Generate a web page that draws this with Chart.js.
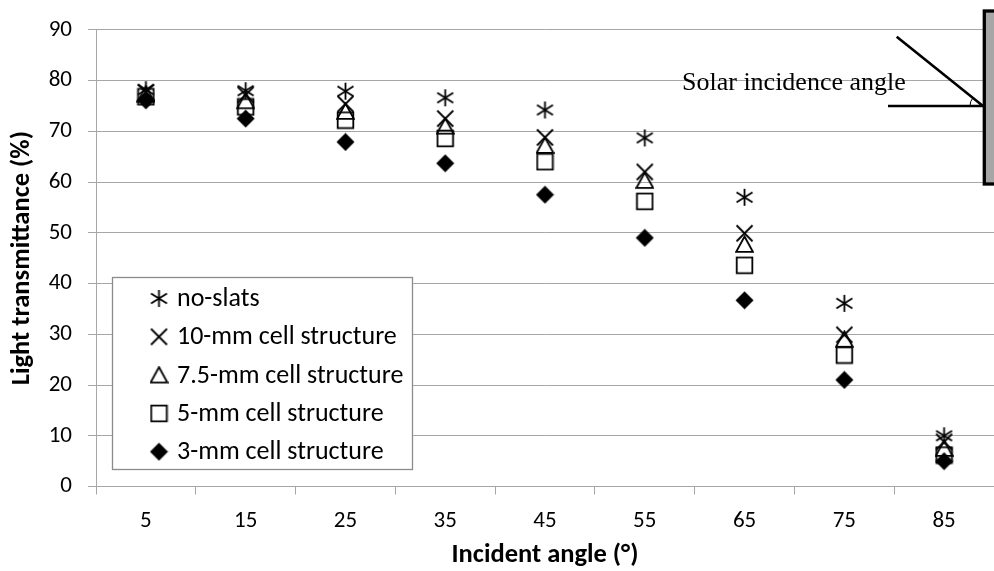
<!DOCTYPE html>
<html><head><meta charset="utf-8">
<script src="https://cdn.jsdelivr.net/npm/chart.js@4.4.0/dist/chart.umd.min.js"></script>
<style>
html,body{margin:0;padding:0;background:#fff;overflow:hidden}
#wrap{position:relative;width:1004px;height:571px}
</style></head>
<body><div id="wrap"><canvas id="c"></canvas></div>
<script>
// ---- data ----
const categories = ['5','15','25','35','45','55','65','75','85'];
const seriesNames = ['no-slats','10-mm cell structure','7.5-mm cell structure','5-mm cell structure','3-mm cell structure'];
const noSlats = [78.2, 78.0, 77.9, 76.6, 74.2, 68.7, 57.0, 36.1, 10.0];
const cell10  = [77.7, 77.2, 75.4, 72.5, 68.8, 62.0, 49.9, 29.9, 8.8];
const cell75  = [77.3, 76.0, 73.9, 71.0, 67.2, 60.3, 47.7, 29.0, 7.5];
const cell5   = [76.8, 74.8, 72.2, 68.6, 64.0, 56.2, 43.6, 25.9, 6.2];
const cell3   = [76.1, 72.5, 67.9, 63.7, 57.5, 49.0, 36.7, 21.0, 5.0];
const yMin = 0, yMax = 90, yStep = 10;
const xTitle = 'Incident angle (°)';
const yTitle = 'Light transmittance (%)';
const noteText = 'Solar incidence angle';

const FONT = 'Carlito, Lato, sans-serif';

function makeMarker(kind){
  const c = document.createElement('canvas');
  c.width = 19; c.height = 19;
  const g = c.getContext('2d');
  g.translate(9.5, 9.5);
  g.strokeStyle = '#000'; g.fillStyle = '#000'; g.lineWidth = 1.8;
  g.beginPath();
  if (kind === 'asterisk'){
    g.moveTo(0,-8.5); g.lineTo(0,8.5);
    g.moveTo(-8,-5); g.lineTo(8,5);
    g.moveTo(-8,5); g.lineTo(8,-5);
    g.stroke();
  } else if (kind === 'x'){
    g.moveTo(-8,-8); g.lineTo(8,8);
    g.moveTo(-8,8); g.lineTo(8,-8);
    g.stroke();
  } else if (kind === 'tri'){
    g.moveTo(0,-8); g.lineTo(8.3,7.3); g.lineTo(-8.3,7.3); g.closePath();
    g.stroke();
  } else if (kind === 'sq'){
    g.rect(-7.8,-7.8,15.6,15.6);
    g.stroke();
  } else {
    g.moveTo(0,-9); g.lineTo(9,0); g.lineTo(0,9); g.lineTo(-9,0); g.closePath();
    g.fill();
  }
  return c;
}
const markers = [makeMarker('asterisk'), makeMarker('x'), makeMarker('tri'), makeMarker('sq'), makeMarker('diamond')];
const values = [noSlats, cell10, cell75, cell5, cell3];

const datasets = seriesNames.map((name,i)=>({
  label: name,
  data: values[i],
  showLine: false,
  pointStyle: markers[i],
  pointRadius: 9,
  borderColor: '#000',
  backgroundColor: '#000'
}));

const GRID = '#a6a6a6';

const overlay = {
  id: 'overlay',
  afterDraw(chart){
    const ctx = chart.ctx;
    ctx.save();
    // legend box
    const lx = 112.5, ly = 277.5, lw = 300, lh = 192;
    ctx.fillStyle = '#fff';
    ctx.fillRect(lx, ly, lw, lh);
    ctx.strokeStyle = '#8c8c8c'; ctx.lineWidth = 1.3;
    ctx.strokeRect(lx, ly, lw, lh);
    ctx.font = '26px ' + FONT;
    ctx.fillStyle = '#000';
    ctx.textBaseline = 'middle';
    chart.data.datasets.forEach((ds,i)=>{
      const cy = 298.5 + i*38.3;
      const img = ds.pointStyle;
      ctx.drawImage(img, 159 - img.width/2, cy - img.height/2);
      ctx.fillText(ds.label, 177, cy + 1);
    });
    // annotation
    ctx.font = '26px "Liberation Serif", serif';
    ctx.textBaseline = 'alphabetic';
    ctx.fillText(noteText, 682, 90);
    ctx.strokeStyle = '#000'; ctx.lineWidth = 2.6;
    ctx.beginPath();
    ctx.moveTo(896.7, 36.7); ctx.lineTo(983, 106);
    ctx.moveTo(888, 106); ctx.lineTo(983, 106);
    ctx.stroke();
    ctx.lineWidth = 1;
    ctx.beginPath();
    ctx.arc(983, 106, 13, Math.PI, Math.PI + 0.675);
    ctx.stroke();
    ctx.fillStyle = '#a6a6a6';
    ctx.fillRect(984, 11, 30, 173);
    ctx.strokeStyle = '#000'; ctx.lineWidth = 3.3;
    ctx.strokeRect(984.3, 11, 30, 173);
    ctx.restore();
  }
};

new Chart(document.getElementById('c'), {
  type: 'line',
  data: { labels: categories, datasets },
  options: {
    responsive: true,
    maintainAspectRatio: false,
    animation: false,
    layout: { padding: { left: 0, right: 3.5, top: 21, bottom: 0 } },
    plugins: { legend: { display: false }, tooltip: { enabled: false } },
    scales: {
      x: {
        type: 'category',
        offset: true,
        afterFit(s){ s.height = 84.5; },
        grid: { offset: true, drawOnChartArea: false, drawTicks: true, tickLength: 8, color: GRID, lineWidth: 1 },
        border: { color: GRID, width: 1 },
        ticks: { color: '#000', font: { family: FONT, size: 23 }, padding: 13, maxRotation: 0 },
        title: { display: true, text: xTitle, color: '#000', font: { family: FONT, size: 26.5, weight: 'bold' }, padding: { top: 0, bottom: 0 } }
      },
      y: {
        min: yMin, max: yMax,
        afterFit(s){ s.width = 96; },
        ticks: { stepSize: yStep, color: '#000', font: { family: FONT, size: 23 }, padding: 16 },
        grid: { color: GRID, lineWidth: 1, tickLength: 8, drawTicks: true },
        border: { color: GRID, width: 1 },
        title: { display: true, text: yTitle, color: '#000', font: { family: FONT, size: 26.5, weight: 'bold' }, padding: { top: 6, bottom: 0 } }
      }
    }
  },
  plugins: [overlay]
});
</script>
</body></html>
